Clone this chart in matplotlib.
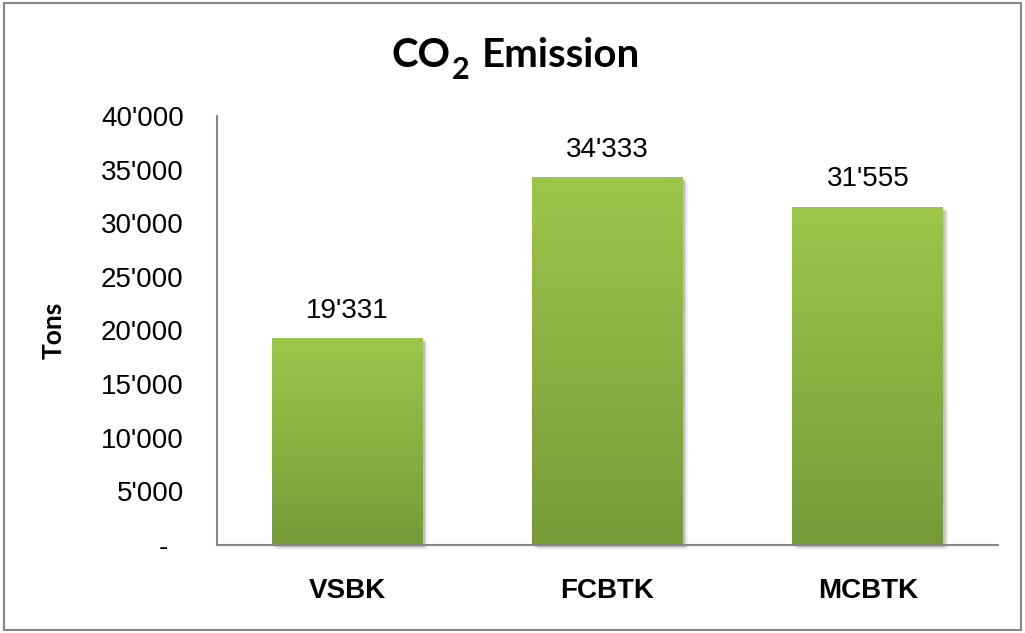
import numpy as np
import matplotlib
matplotlib.use("Agg")
import matplotlib.pyplot as plt
import matplotlib.patheffects as pe
from matplotlib.colors import LinearSegmentedColormap
from matplotlib.patches import Rectangle
from matplotlib.ticker import FuncFormatter

# data
categories = ["VSBK", "FCBTK", "MCBTK"]
emissions = [19331, 34333, 31555]
y_ticks = [0, 5000, 10000, 15000, 20000, 25000, 30000, 35000, 40000]

plt.rcParams['font.family'] = ['Liberation Sans', 'DejaVu Sans']

W, H = 1025, 633
fig = plt.figure(figsize=(W / 100, H / 100), dpi=100)
ax = fig.add_axes([217 / W, 88 / H, 781 / W, 429 / H])

green = LinearSegmentedColormap.from_list("grn", ["#779a39", "#9dc64b"])
grad = np.linspace(0, 1, 256).reshape(-1, 1)

x = np.arange(len(categories))
bars = ax.bar(x, emissions, width=0.58, color="#8bb042", zorder=2, clip_on=False)
for b in bars:
    b.set_path_effects([
        pe.SimplePatchShadow(offset=(3.5, -3.5), shadow_rgbFace="#000000", alpha=0.06),
        pe.SimplePatchShadow(offset=(2.5, -2.5), shadow_rgbFace="#000000", alpha=0.09),
        pe.SimplePatchShadow(offset=(1.5, -1.5), shadow_rgbFace="#000000", alpha=0.12),
        pe.Normal(),
    ])
    x0, w, h = b.get_x(), b.get_width(), b.get_height()
    im = ax.imshow(grad, cmap=green, aspect="auto", origin="lower",
                   extent=(x0, x0 + w, 0, h), zorder=3)
    im.set_clip_path(b)

# data labels
for xi, v in zip(x, emissions):
    ax.annotate(f"{v:,}".replace(",", "'"), (xi, v), textcoords="offset points",
                xytext=(0, 14.5), ha="center", va="baseline", fontsize=20)

ax.set_xlim(-0.5, 2.5)
ax.set_ylim(0, 40000)
ax.set_yticks(y_ticks)
# accounting style: zero shown as a dash with trailing space
ax.yaxis.set_major_formatter(FuncFormatter(
    lambda v, p: "-  " if v == 0 else f"{int(v):,}".replace(",", "'")))
ax.set_xticks(x)
ax.set_xticklabels(categories, fontsize=20, fontweight="bold")
ax.tick_params(axis="y", length=0, pad=24, labelsize=20)
ax.tick_params(axis="x", length=0, pad=24)

for s in ["top", "right"]:
    ax.spines[s].set_visible(False)
for s in ["left", "bottom"]:
    ax.spines[s].set_color("#868686")
    ax.spines[s].set_linewidth(1.5)
    ax.spines[s].set_zorder(4)

fig.text(54 / W, 1 - 330 / H, "Tons", rotation=90, ha="center", va="center",
         fontsize=19, fontweight="bold", family=["Lato", "DejaVu Sans"])

# title in three pieces so the subscript 2 sits low and near full size
tfont = dict(fontweight="bold", family=["Lato", "DejaVu Sans"], va="baseline", ha="left")
base_y = 1 - 67 / H
sub_y = 1 - 79 / H
t_co = fig.text(0, base_y, "CO", fontsize=29, **tfont)
t_2 = fig.text(0, sub_y, "2", fontsize=22, **tfont)
t_em = fig.text(0, base_y, "Emission", fontsize=29, **tfont)
fig.canvas.draw()
r = fig.canvas.get_renderer()
w_co = t_co.get_window_extent(r).width
w_2 = t_2.get_window_extent(r).width
w_em = t_em.get_window_extent(r).width
gap_sub, gap_sp = 1, 13
total = w_co + gap_sub + w_2 + gap_sp + w_em
left = 516 - total / 2
t_co.set_x(left / W)
t_2.set_x((left + w_co + gap_sub) / W)
t_em.set_x((left + w_co + gap_sub + w_2 + gap_sp) / W)

# outer border
fig.patches.append(Rectangle((4 / W, 3 / H), 1017 / W, 627 / H,
                             transform=fig.transFigure, fill=False,
                             edgecolor="#878787", linewidth=1.5))

fig.savefig("out.png", dpi=100)
